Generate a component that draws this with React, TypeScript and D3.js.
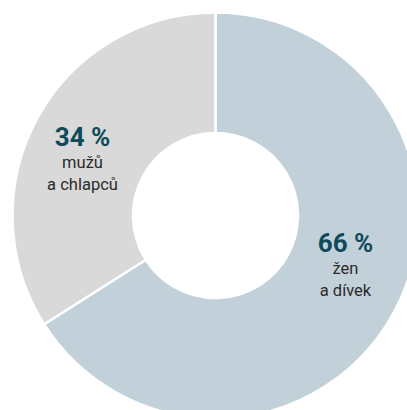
import React from "react";
import * as d3 from "d3";

const categories = ["žen a dívek", "mužů a chlapců"];
const values = [66, 34];
const percentLabels = ["66 %", "34 %"];
const labelLines = [["žen", "a dívek"], ["mužů", "a chlapců"]];
const colors = ["#c2d1d9", "#d9d9d9"];

const W = 407;
const H = 410;
const cx = 215.5;
const cy = 215.5;
const outerR = 203;
const innerR = 82.5;

export default function App() {
  const pie = d3.pie<number>().sort(null).value((d) => d)(values);
  const arc = d3.arc<d3.PieArcDatum<number>>().innerRadius(innerR).outerRadius(outerR);
  const labelArc = d3.arc<d3.PieArcDatum<number>>().innerRadius(140).outerRadius(140);
  return (
    <svg
      width={W}
      height={H}
      style={{ position: "fixed", left: 0, top: 0, background: "#fff" }}
      fontFamily="Roboto, 'DejaVu Sans', sans-serif"
    >
      <g transform={`translate(${cx},${cy})`}>
        {pie.map((p, i) => (
          <path key={categories[i]} d={arc(p) || ""} fill={colors[i]} stroke="#fff" strokeWidth={2.5} />
        ))}
        {pie.map((p, i) => {
          const [lx, ly] = labelArc.centroid(p);
          const dx = i === 0 ? 130 : -133;
          const dy = i === 0 ? 36.5 : -69.5;
          return (
            <g key={"l" + i} transform={`translate(${dx},${dy})`} textAnchor="middle">
              <text y={0} fontSize={26} fontWeight={700} fill="#0f4a5b">
                {percentLabels[i]}
              </text>
              {labelLines[i].map((t, j) => (
                <text key={j} y={22 + j * 22} fontSize={16.5} fill="#2b2b2b">
                  {t}
                </text>
              ))}
            </g>
          );
        })}
      </g>
    </svg>
  );
}
